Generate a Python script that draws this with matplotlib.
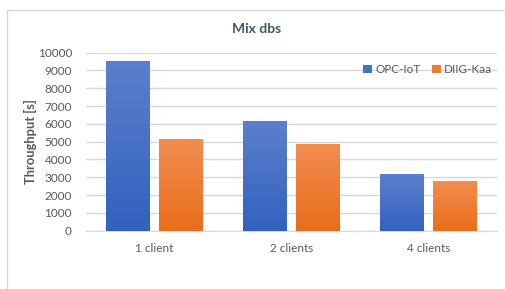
import numpy as np
import matplotlib
matplotlib.use('Agg')
import matplotlib.pyplot as plt
from matplotlib.colors import LinearSegmentedColormap
from matplotlib.patches import Rectangle

# data
categories = ['1 client', '2 clients', '4 clients']
series_names = ['OPC-IoT', 'DIIG-Kaa']
opc_iot = [9520, 6150, 3180]
diig_kaa = [5140, 4870, 2780]

plt.rcParams['font.family'] = ['Lato', 'DejaVu Sans']
text_col = '#595959'
grid_col = '#d9d9d9'

fig = plt.figure(figsize=(5.05, 2.89), dpi=100)
ax = fig.add_axes([0.170, 0.202, 0.814, 0.616])

# outer chart frame
fig.patches.append(Rectangle((6.5 / 505, -0.1), 1.1, (289 - 10.5) / 289 + 0.1,
                             transform=fig.transFigure, fill=False,
                             edgecolor=grid_col, linewidth=1))

x = np.arange(len(categories))
width = 0.318
offset = 0.192

blue_cmap = LinearSegmentedColormap.from_list('b', ['#3361bf', '#5b80cc'])
orange_cmap = LinearSegmentedColormap.from_list('o', ['#e96d1a', '#f28d50'])

bars1 = ax.bar(x - offset, opc_iot, width, color='#4472c4', label=series_names[0], zorder=2)
bars2 = ax.bar(x + offset, diig_kaa, width, color='#ed7d31', label=series_names[1], zorder=2)

# vertical gradient fill like the Excel style
grad = np.linspace(0, 1, 256).reshape(-1, 1)
for bars, cmap in [(bars1, blue_cmap), (bars2, orange_cmap)]:
    for b in bars:
        x0, y0 = b.get_x(), b.get_y()
        w, h = b.get_width(), b.get_height()
        ax.imshow(grad, extent=[x0, x0 + w, y0, y0 + h], origin='lower',
                  cmap=cmap, aspect='auto', zorder=3)

ax.set_xlim(-0.5, 2.5)
ax.set_ylim(0, 10000)
ax.set_yticks(np.arange(0, 10001, 1000))
ax.set_xticks(x)
ax.set_xticklabels(categories)
ax.yaxis.grid(True, color=grid_col, linewidth=1, zorder=0)
ax.set_axisbelow(True)
for s in ['top', 'right', 'left']:
    ax.spines[s].set_visible(False)
ax.spines['bottom'].set_color(grid_col)
ax.tick_params(axis='both', length=0, colors=text_col, labelsize=8.5)
ax.tick_params(axis='x', pad=9)
ax.tick_params(axis='y', pad=10)

ax.set_ylabel('Throughput [s]', fontsize=9.3, fontweight='bold', color=text_col)
ax.yaxis.set_label_coords(-0.118, 0.5)
fig.text(257 / 505, 1 - 29 / 289, 'Mix dbs', ha='center', va='center',
         fontsize=10, fontweight='bold', color='#44546a')

ax.legend(loc='upper right', bbox_to_anchor=(1.0, 0.96), frameon=False, fontsize=8.5,
          handlelength=0.7, handleheight=0.7, handletextpad=0.3, columnspacing=1.0,
          ncol=2, labelcolor=text_col, borderaxespad=0)

fig.savefig('out.png', dpi=100)
